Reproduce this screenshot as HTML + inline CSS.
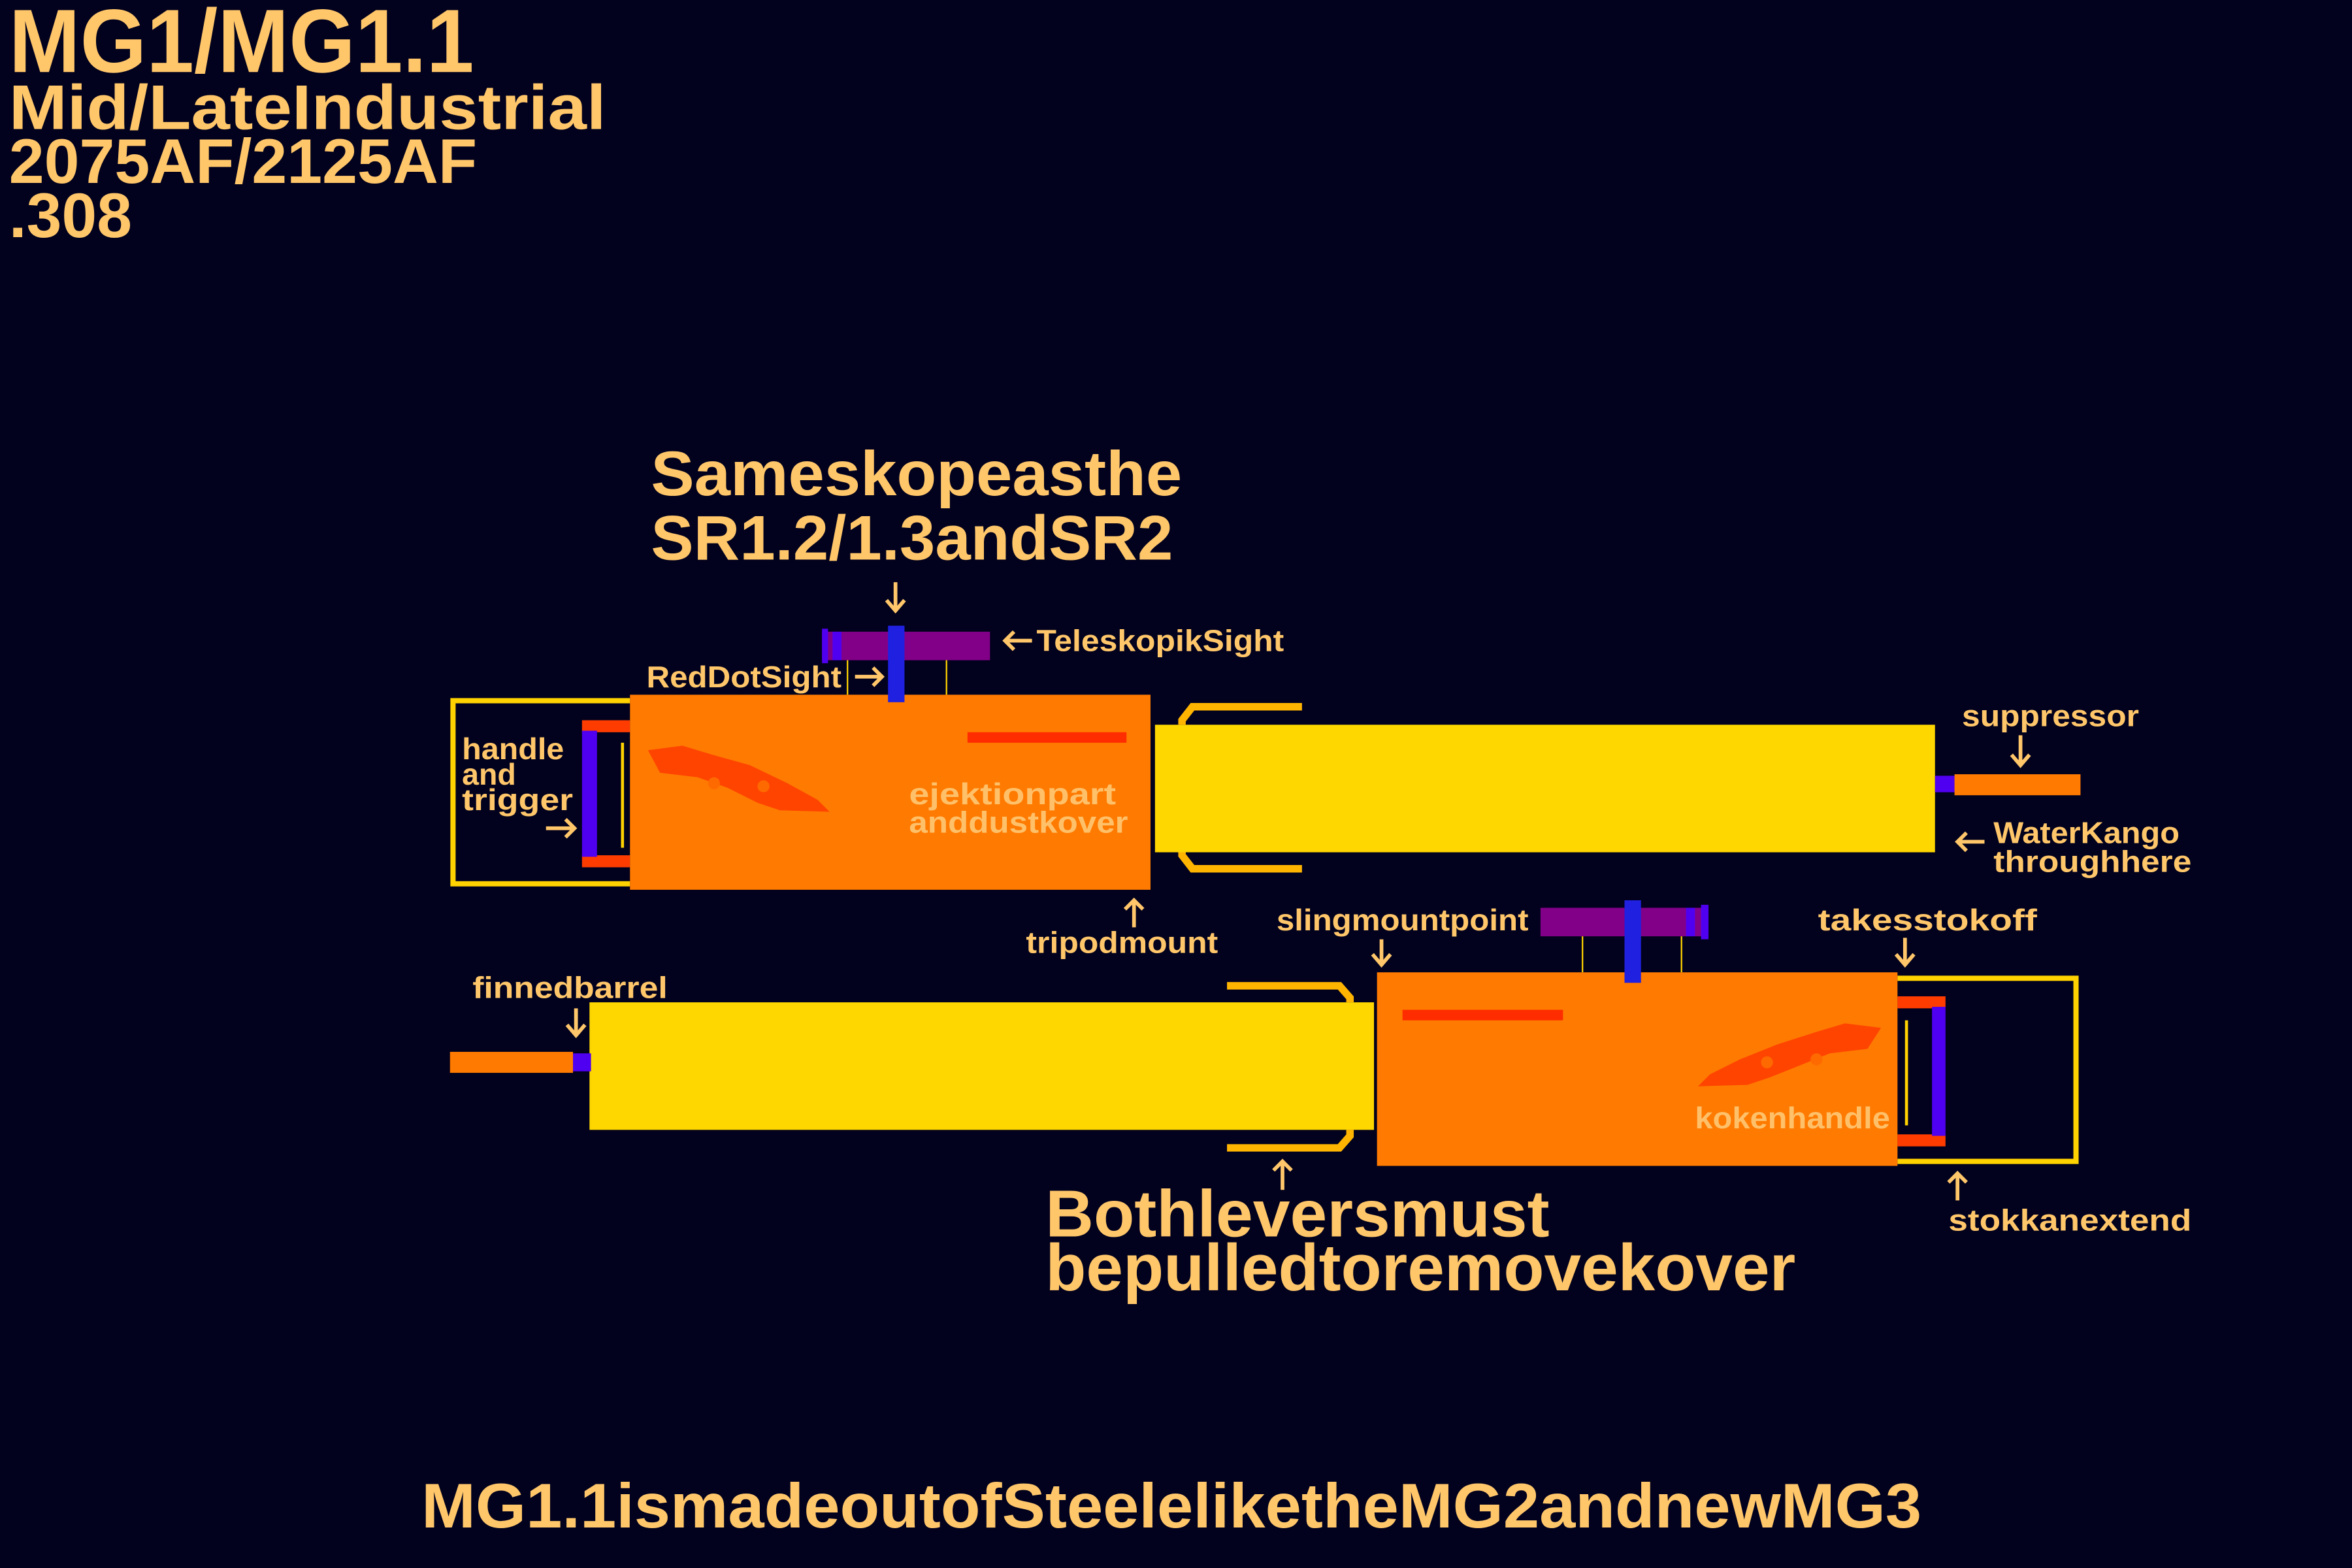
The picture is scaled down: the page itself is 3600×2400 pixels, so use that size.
<!DOCTYPE html>
<html><head><meta charset="utf-8"><style>
html,body{margin:0;padding:0;background:#02021e;width:3600px;height:2400px;overflow:hidden}
svg{display:block}
text{font-family:"Liberation Sans",sans-serif;font-weight:bold;fill:#ffc66a}
</style></head><body>
<svg width="3600" height="2400" viewBox="0 0 1568 1045" preserveAspectRatio="none" xmlns="http://www.w3.org/2000/svg">
<rect width="1568" height="1045" fill="#02021e"/>
<text x="6" y="48" font-size="60" textLength="310" lengthAdjust="spacingAndGlyphs">MG1/MG1.1</text>
<text x="6" y="86" font-size="42" textLength="398" lengthAdjust="spacingAndGlyphs">Mid/LateIndustrial</text>
<text x="6" y="122" font-size="42" textLength="312" lengthAdjust="spacingAndGlyphs">2075AF/2125AF</text>
<text x="6" y="158" font-size="42" textLength="82" lengthAdjust="spacingAndGlyphs">.308</text>
<text x="434" y="330" font-size="42" textLength="354" lengthAdjust="spacingAndGlyphs">Sameskopeasthe</text>
<text x="434" y="373" font-size="42" textLength="348" lengthAdjust="spacingAndGlyphs">SR1.2/1.3andSR2</text>

<g stroke="#ffc66a" stroke-width="2.5" fill="none">
 <path d="M597 388V407M591 400L597 407L603 400"/>
 <path d="M688 427H670M676 421L670 427L676 433"/>
 <path d="M570 451H588M582 445L588 451L582 457"/>
 <path d="M364 552H383M377 546L383 552L377 558"/>
 <path d="M700 522V504M694 510L700 504L706 510"/>
 <path d="M756 618V600M750 606L756 600L762 606"/>
 <path d="M1347 490V510M1341 503L1347 510L1353 503"/>
 <path d="M1323 561H1305M1311 555L1305 561L1311 567"/>
 <path d="M384 672V690M378 683L384 690L390 683"/>
 <path d="M921 626V643M915 636L921 643L927 636"/>
 <path d="M1270 625V643M1264 636L1270 643L1276 636"/>
 <path d="M1240 728V710M1234 716L1240 710L1246 716"/>
 <path d="M1305 800V782M1299 788L1305 782L1311 788"/>
 <path d="M855 793V774M849 780L855 774L861 780"/>
</g>

<path d="M420 467H302V589H420" fill="none" stroke="#ffd200" stroke-width="3.5"/>
<rect x="388" y="480" width="32" height="8" fill="#ff3c00"/>
<rect x="388" y="570" width="32" height="8" fill="#ff3c00"/>
<rect x="388" y="487" width="10" height="84" fill="#5000f0"/>
<rect x="414" y="495" width="2" height="70" fill="#ffd200"/>
<rect x="420" y="463" width="347" height="130" fill="#ff7a00"/>
<rect x="645" y="488" width="106" height="7" fill="#ff2c00"/>
<path d="M432 500L455 497L475 503L500 510L525 522L545 533L553 541L520 540L505 535L485 525L465 518L440 515Z" fill="#ff4400"/>
<circle cx="476" cy="522" r="4" fill="#ff6a00"/><circle cx="509" cy="524" r="4" fill="#ff6a00"/>
<rect x="770" y="483" width="520" height="85" fill="#ffd700"/>
<path d="M868 471H795L788 480V483" fill="none" stroke="#ffb400" stroke-width="5"/>
<path d="M868 579H795L788 570V568" fill="none" stroke="#ffb400" stroke-width="5"/>
<rect x="1290" y="517" width="14" height="11" fill="#5000f0"/>
<rect x="1303" y="516" width="84" height="14" fill="#ff7a00"/>
<rect x="548" y="421" width="112" height="19" fill="#820088"/>
<rect x="548" y="419" width="4" height="23" fill="#5000f0"/>
<rect x="555" y="421" width="6" height="19" fill="#5000f0"/>
<rect x="592" y="417" width="11" height="51" fill="#2020e0"/>
<line x1="565" y1="440" x2="565" y2="463" stroke="#ffd200" stroke-width="1"/>
<line x1="631" y1="440" x2="631" y2="463" stroke="#ffd200" stroke-width="1"/>

<text x="308" y="506" font-size="20" textLength="68" lengthAdjust="spacingAndGlyphs">handle</text>
<text x="308" y="523" font-size="20" textLength="36" lengthAdjust="spacingAndGlyphs">and</text>
<text x="308" y="540" font-size="20" textLength="74" lengthAdjust="spacingAndGlyphs">trigger</text>
<text x="431" y="458" font-size="20" textLength="130" lengthAdjust="spacingAndGlyphs">RedDotSight</text>
<text x="691" y="434" font-size="20" textLength="165" lengthAdjust="spacingAndGlyphs">TeleskopikSight</text>
<text x="606" y="536" font-size="20" textLength="138" lengthAdjust="spacingAndGlyphs" style="fill:#ffc06a">ejektionpart</text>
<text x="606" y="555" font-size="20" textLength="146" lengthAdjust="spacingAndGlyphs" style="fill:#ffc06a">anddustkover</text>
<text x="684" y="635" font-size="20" textLength="128" lengthAdjust="spacingAndGlyphs">tripodmount</text>
<text x="1308" y="484" font-size="20" textLength="118" lengthAdjust="spacingAndGlyphs">suppressor</text>
<text x="1329" y="562" font-size="20" textLength="124" lengthAdjust="spacingAndGlyphs">WaterKango</text>
<text x="1329" y="581" font-size="20" textLength="132" lengthAdjust="spacingAndGlyphs">throughhere</text>

<path d="M1265 652H1384V774H1265" fill="none" stroke="#ffd200" stroke-width="3.5"/>
<rect x="1265" y="664" width="32" height="8" fill="#ff3c00"/>
<rect x="1265" y="756" width="32" height="8" fill="#ff3c00"/>
<rect x="1288" y="671" width="9" height="86" fill="#5000f0"/>
<rect x="1270" y="680" width="2" height="70" fill="#ffd200"/>
<rect x="918" y="648" width="347" height="129" fill="#ff7a00"/>
<rect x="935" y="673" width="107" height="7" fill="#ff2c00"/>
<path d="M1254 685L1230 682L1210 688L1185 696L1160 706L1140 716L1132 724L1165 723L1180 718L1200 710L1220 702L1245 699Z" fill="#ff4400"/>
<circle cx="1178" cy="708" r="4" fill="#ff6a00"/><circle cx="1211" cy="706" r="4" fill="#ff6a00"/>
<rect x="393" y="668" width="523" height="85" fill="#ffd700"/>
<path d="M818 657H893L900 665V668" fill="none" stroke="#ffb400" stroke-width="5"/>
<path d="M818 765H893L900 757V753" fill="none" stroke="#ffb400" stroke-width="5"/>
<rect x="382" y="702" width="12" height="12" fill="#5000f0"/>
<rect x="300" y="701" width="82" height="14" fill="#ff7a00"/>
<rect x="1027" y="605" width="112" height="19" fill="#820088"/>
<rect x="1134" y="603" width="5" height="23" fill="#5000f0"/>
<rect x="1124" y="605" width="6" height="19" fill="#5000f0"/>
<rect x="1083" y="600" width="11" height="55" fill="#2020e0"/>
<line x1="1055" y1="624" x2="1055" y2="648" stroke="#ffd200" stroke-width="1"/>
<line x1="1121" y1="624" x2="1121" y2="648" stroke="#ffd200" stroke-width="1"/>

<text x="315" y="665" font-size="20" textLength="130" lengthAdjust="spacingAndGlyphs">finnedbarrel</text>
<text x="851" y="620" font-size="20" textLength="168" lengthAdjust="spacingAndGlyphs">slingmountpoint</text>
<text x="1212" y="620" font-size="20" textLength="146" lengthAdjust="spacingAndGlyphs">takesstokoff</text>
<text x="1130" y="752" font-size="20" textLength="130" lengthAdjust="spacingAndGlyphs" style="fill:#ffc06a">kokenhandle</text>
<text x="1299" y="820" font-size="20" textLength="162" lengthAdjust="spacingAndGlyphs">stokkanextend</text>
<text x="697" y="824" font-size="44" textLength="336" lengthAdjust="spacingAndGlyphs">Bothleversmust</text>
<text x="697" y="860" font-size="44" textLength="500" lengthAdjust="spacingAndGlyphs">bepulledtoremovekover</text>
<text x="281" y="1018" font-size="42" textLength="1000" lengthAdjust="spacingAndGlyphs">MG1.1ismadeoutofSteeleliketheMG2andnewMG3</text>
</svg>
</body></html>
